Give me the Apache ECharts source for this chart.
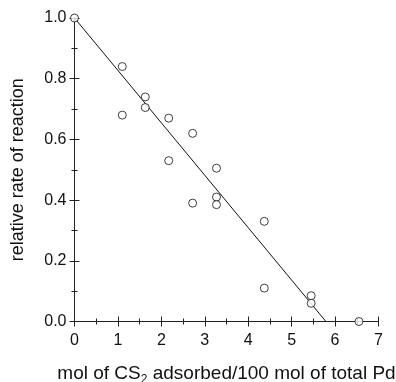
<!DOCTYPE html>
<html>
<head>
<meta charset="utf-8">
<script src="https://cdn.jsdelivr.net/npm/echarts@6/dist/echarts.min.js"></script>
<style>
  html, body { margin: 0; padding: 0; background: #fff; }
  #main { width: 396px; height: 382px; }
</style>
</head>
<body>
<div id="main"></div>
<script>
// measured points: CS2 adsorbed vs relative rate
const csAdsorbed = [0, 1.1, 1.1, 1.63, 1.63, 2.17, 2.17, 2.72, 2.72, 3.27, 3.27, 3.27, 4.37, 4.37, 5.45, 5.45, 6.55];
const relRate = [1.0, 0.84, 0.68, 0.74, 0.705, 0.67, 0.53, 0.62, 0.39, 0.505, 0.41, 0.385, 0.33, 0.11, 0.085, 0.06, 0.0];
// fitted line end points
const fitX = [0, 5.79];
const fitY = [1.0, 0.0];

const font = 'Liberation Sans, Arial, sans-serif';
const axisCol = '#222';

let myChart = echarts.init(document.getElementById('main'));

const baseX = {
  type: 'value', min: 0, max: 7, interval: 1,
  axisLine: { lineStyle: { color: axisCol, width: 1 } },
  axisTick: { inside: true, length: 5, lineStyle: { color: axisCol } },
  minorTick: { show: true, splitNumber: 2, length: 3, lineStyle: { color: axisCol } },
  splitLine: { show: false },
  minorSplitLine: { show: false }
};
const baseY = {
  type: 'value', min: 0, max: 1, interval: 0.2,
  axisLine: { lineStyle: { color: axisCol, width: 1 } },
  axisTick: { inside: true, length: 5, lineStyle: { color: axisCol } },
  minorTick: { show: true, splitNumber: 2, length: 3, lineStyle: { color: axisCol } },
  splitLine: { show: false },
  minorSplitLine: { show: false }
};

let option = {
  animation: false,
  backgroundColor: '#fff',
  grid: { left: 74.5, right: 17.5, top: 18, bottom: 60.5, containLabel: false, outerBoundsMode: 'none' },
  xAxis: [
    Object.assign({}, baseX, {
      position: 'bottom',
      name: '{n|mol of CS}{s|2}{n| adsorbed/100 mol of total Pd}',
      nameLocation: 'middle',
      nameGap: 40,
      nameTextStyle: {
        rich: {
          n: { fontFamily: font, fontSize: 19, color: '#111' },
          s: { fontFamily: font, fontSize: 12, color: '#111', padding: [12, 0, 0, 0] }
        }
      },
      axisLabel: { color: '#111', fontFamily: font, fontSize: 16, margin: 11 }
    }),
    Object.assign({}, baseX, {
      position: 'top',
      axisLabel: { show: false }
    })
  ],
  yAxis: [
    Object.assign({}, baseY, {
      position: 'left',
      name: 'relative rate of reaction',
      nameLocation: 'middle',
      nameGap: 47,
      nameTextStyle: { color: '#111', fontFamily: font, fontSize: 18 },
      axisLabel: {
        color: '#111', fontFamily: font, fontSize: 16, margin: 8,
        formatter: v => v.toFixed(1)
      }
    }),
    Object.assign({}, baseY, {
      position: 'right',
      axisLabel: { show: false }
    })
  ],
  series: [
    {
      type: 'line',
      data: fitX.map((x, i) => [x, fitY[i]]),
      showSymbol: false,
      lineStyle: { color: '#111', width: 1 },
      z: 2
    },
    {
      type: 'scatter',
      data: csAdsorbed.map((x, i) => [x, relRate[i]]),
      symbol: 'circle',
      symbolSize: 8,
      itemStyle: { color: '#fff', borderColor: '#111', borderWidth: 1 },
      clip: false,
      z: 3
    }
  ]
};
myChart.setOption(option);
</script>
</body>
</html>
